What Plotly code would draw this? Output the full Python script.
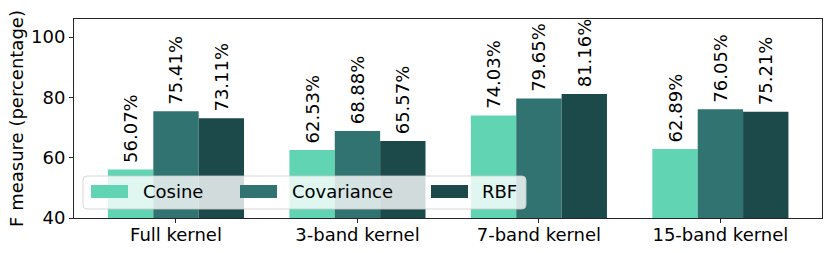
import plotly.graph_objects as go

categories = ["Full kernel", "3-band kernel", "7-band kernel", "15-band kernel"]
series_names = ["Cosine", "Covariance", "RBF"]
cosine = [56.07, 62.53, 74.03, 62.89]
covariance = [75.41, 68.88, 79.65, 76.05]
rbf = [73.11, 65.57, 81.16, 75.21]
y_ticks = [40, 60, 80, 100]

colors = ["#61d4b3", "#307371", "#1c4a4a"]
FONT = "DejaVu Sans"
FS = 18
AX = "#262626"

W, H = 831, 253
L, R, T, B = 74, 9, 19, 35
PW, PH = W - L - R, H - T - B

def px(x):
    return (x - L) / PW

def py(y):
    return (H - B - y) / PH

fig = go.Figure()
for name, vals, col in zip(series_names, [cosine, covariance, rbf], colors):
    fig.add_trace(go.Bar(
        x=categories, y=vals, name=name,
        marker=dict(color=col, line=dict(width=0)),
        text=["\u2009" + f"{v:.2f}%" for v in vals],
        textposition="outside", textangle=-90,
        constraintext="none", cliponaxis=False,
        textfont=dict(family=FONT, size=FS, color="black"),
        showlegend=False, hoverinfo="skip",
    ))

shapes = []
annotations = []
# legend box (rounded)
x0, x1, y0, y1 = px(83), px(526), py(209), py(176)
rx, ry = 4 / PW, 4 / PH
path = (f"M{x0+rx},{y0} L{x1-rx},{y0} Q{x1},{y0} {x1},{y0+ry} "
        f"L{x1},{y1-ry} Q{x1},{y1} {x1-rx},{y1} L{x0+rx},{y1} "
        f"Q{x0},{y1} {x0},{y1-ry} L{x0},{y0+ry} Q{x0},{y0} {x0+rx},{y0} Z")
shapes.append(dict(type="path", xref="paper", yref="paper", path=path,
                   fillcolor="rgba(255,255,255,0.8)",
                   line=dict(color="rgba(204,204,204,0.8)", width=1), layer="above"))
sw_x = [91, 240, 431]
tx_x = [143, 292, 482]
for i, name in enumerate(series_names):
    shapes.append(dict(type="rect", xref="paper", yref="paper",
                       x0=px(sw_x[i]), x1=px(sw_x[i] + 37), y0=py(198), y1=py(185),
                       fillcolor=colors[i], line=dict(width=0), layer="above"))
    annotations.append(dict(xref="paper", yref="paper", x=px(tx_x[i] - 2), y=py(191.5),
                            xanchor="left", yanchor="middle", showarrow=False,
                            text=name, font=dict(family=FONT, size=FS, color="black")))

fig.update_layout(
    width=W, height=H,
    margin=dict(l=L, r=R, t=T, b=B, autoexpand=False),
    paper_bgcolor="white", plot_bgcolor="white",
    barmode="group", bargap=0.25, bargroupgap=0,
    font=dict(family=FONT, size=FS, color="black"),
    shapes=shapes, annotations=annotations,
    xaxis=dict(range=[-0.562, 3.56], showline=True, mirror=True, linecolor=AX,
               linewidth=1, ticks="outside", ticklen=4, tickcolor=AX,
               showgrid=False, zeroline=False, automargin=False,
               ticklabelstandoff=-4,
               tickfont=dict(family=FONT, size=FS, color="black")),
    yaxis=dict(range=[40, 106], showline=True, mirror=True, linecolor=AX,
               linewidth=1, ticks="outside", ticklen=4, tickcolor=AX,
               tickvals=y_ticks, showgrid=False, zeroline=False, automargin=False,
               title=dict(text="F measure (percentage)", standoff=2,
                          font=dict(family=FONT, size=FS, color="black")),
               tickfont=dict(family=FONT, size=FS, color="black")),
)

fig.write_html("out.html", config={"displayModeBar": False, "staticPlot": True},
               post_script="document.body.style.margin='0';document.body.style.overflow='hidden';")
